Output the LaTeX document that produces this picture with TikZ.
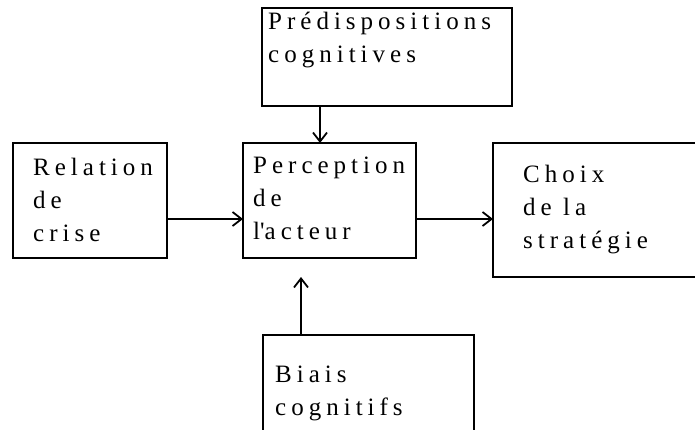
\documentclass[tikz,border=0pt]{standalone}
\usepackage{fontspec}
\setmainfont[LetterSpace=20]{Liberation Serif}
\usetikzlibrary{arrows.meta}
\begin{document}
\begin{tikzpicture}[x=1pt,y=-1pt,
  box/.style={draw=black,line width=1.8pt,rectangle,inner sep=0pt,outer sep=0pt,anchor=north west},
  txt/.style={anchor=base west,align=left,inner sep=0pt,font=\fontsize{25}{33}\selectfont},
  arr/.style={draw=black,line width=1.8pt,-{Straight Barb[length=9pt,width=14pt,line width=1.8pt]}}]
\useasboundingbox (0,0) rectangle (695,430);
\clip (0,0) rectangle (695,430);
% boxes
\node[box,minimum width=250pt,minimum height=98pt] (pred) at (262,8) {};
\node[box,minimum width=173pt,minimum height=115pt] (perc) at (243,143) {};
\node[box,minimum width=154pt,minimum height=115pt] (rel) at (13,143) {};
\node[box,minimum width=230pt,minimum height=134pt] (choix) at (493,143) {};
\node[box,minimum width=211pt,minimum height=120pt] (biais) at (263,335) {};
% texts (anchored at the baseline of their last line)
\node[txt] (tpred) at (268,63) {Prédispositions\\cognitives};
\node[txt] (trel) at (33,241) {Relation\\de\\crise};
\node[txt] (tperc) at (253,240) {Perception\\de\\l\textquotesingle acteur};
\node[txt] (tchoix) at (523,248) {Choix\\de la\\stratégie};
\node[txt] (tbiais) at (275,415) {Biais\\cognitifs};
% connectors
\coordinate (ymid) at (0,219);
\coordinate (xtop) at (320,0);
\coordinate (xbot) at (301,0);
\coordinate (tipb) at (301,277);
\draw[arr] (pred.south -| xtop) -- (perc.north -| xtop);
\draw[arr] (rel.east |- ymid) -- (perc.west |- ymid);
\draw[arr] (perc.east |- ymid) -- (choix.west |- ymid);
\draw[arr] (biais.north -| xbot) -- (tipb);
\end{tikzpicture}
\end{document}
